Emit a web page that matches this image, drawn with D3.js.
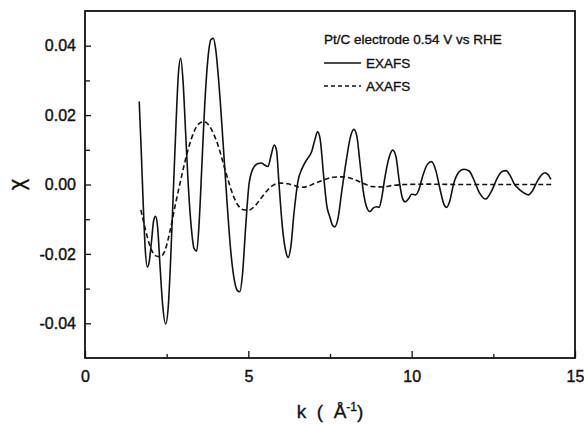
<!DOCTYPE html>
<html>
<head>
<meta charset="utf-8">
<script src="https://cdn.jsdelivr.net/npm/d3@7"></script>
<style>
  body { margin: 0; background: #fff; }
  svg { font-family: "Liberation Sans", Arial, sans-serif; }
  .tick text { font-size: 16px; fill: #111; stroke: #111; stroke-width: 0.4px; }
  .tick line { stroke: #111; stroke-width: 1.3; }
  .heavy { stroke: #111; stroke-width: 0.35px; }
</style>
</head>
<body>
<div id="chart"></div>
<script>
const svgWidth = 584;
const svgHeight = 424;

const margin = { top: 11, right: 9, bottom: 66, left: 85 };
const width = svgWidth - margin.left - margin.right;
const height = svgHeight - margin.top - margin.bottom;

// EXAFS chi(k)
const exafsK = [1.66, 1.72, 1.78, 1.84, 1.91, 1.97, 2.04, 2.10, 2.16, 2.22, 2.30, 2.38, 2.47, 2.55, 2.62, 2.70, 2.78, 2.86, 2.93, 3.00,
  3.08, 3.16, 3.25, 3.34, 3.42, 3.50, 3.58, 3.66, 3.76, 3.86, 3.93, 4.00, 4.10, 4.22, 4.34, 4.46, 4.58, 4.66, 4.74, 4.82,
  4.92, 5.02, 5.14, 5.28, 5.40, 5.50, 5.60, 5.70, 5.79, 5.86, 5.94, 6.04, 6.14, 6.22, 6.30, 6.40, 6.52, 6.64, 6.78, 6.94,
  7.04, 7.12, 7.20, 7.30, 7.40, 7.50, 7.58, 7.65, 7.74, 7.86, 8.00, 8.12, 8.23, 8.32, 8.42, 8.52, 8.62, 8.72, 8.82, 8.92,
  9.00, 9.08, 9.18, 9.30, 9.42, 9.52, 9.62, 9.72, 9.80, 9.90, 10.00, 10.12, 10.22, 10.34, 10.48, 10.61, 10.74, 10.86, 10.98, 11.07,
  11.16, 11.28, 11.44, 11.60, 11.76, 11.92, 12.08, 12.27, 12.44, 12.64, 12.78, 12.89, 13.02, 13.14, 13.26, 13.40, 13.57, 13.70, 13.86, 14.00,
  14.08, 14.18, 14.26];
const exafsChi = [0.0239, 0.010, -0.005, -0.018, -0.0238, -0.022, -0.016, -0.0105, -0.0092, -0.012, -0.024, -0.035, -0.0402, -0.035, -0.022, -0.003, 0.016, 0.032, 0.0364, 0.030,
  0.015, 0.000, -0.012, -0.0185, -0.0192, -0.010, 0.006, 0.022, 0.036, 0.0418, 0.0421, 0.039, 0.029, 0.013, -0.004, -0.019, -0.028, -0.0305, -0.0309, -0.026,
  -0.012, 0.000, 0.0045, 0.006, 0.0062, 0.0056, 0.0052, 0.0085, 0.0114, 0.010, 0.000, -0.012, -0.019, -0.021, -0.018, -0.008, 0.001, 0.0045, 0.007, 0.0095,
  0.013, 0.0152, 0.013, 0.003, -0.006, -0.0095, -0.0118, -0.0122, -0.010, -0.002, 0.007, 0.0135, 0.0159, 0.014, 0.006, -0.002, -0.0065, -0.0078, -0.0068, -0.0064,
  -0.0066, -0.004, 0.002, 0.0075, 0.0099, 0.008, 0.001, -0.004, -0.0050, -0.0042, -0.0028, -0.0030, -0.0015, 0.0025, 0.0058, 0.0066, 0.004, -0.001, -0.0055, -0.0066,
  -0.005, 0.000, 0.0035, 0.0044, 0.0039, 0.001, -0.0025, -0.0042, -0.002, 0.0022, 0.0038, 0.0040, 0.0025, 0.0002, -0.0011, -0.0022, -0.0030, -0.0018, 0.0012, 0.003,
  0.0034, 0.0028, 0.0015];

// AXAFS chi(k)
const axafsK = [1.71, 1.85, 2.0, 2.15, 2.3, 2.45, 2.6, 2.75, 2.9, 3.05, 3.2, 3.35, 3.5, 3.65, 3.8, 3.95, 4.1, 4.25, 4.4, 4.55,
  4.7, 4.85, 5.0, 5.2, 5.4, 5.6, 5.8, 6.0, 6.2, 6.4, 6.6, 6.8, 7.0, 7.3, 7.6, 7.9, 8.2, 8.5, 8.8, 9.1,
  9.4, 9.8, 10.5, 11.5, 12.5, 13.5, 14.3];
const axafsChi = [-0.0073, -0.013, -0.018, -0.0205, -0.0208, -0.019, -0.0135, -0.0065, 0.000, 0.0062, 0.0115, 0.0155, 0.0176, 0.0181, 0.017, 0.0143, 0.0105, 0.0055, 0.0007, -0.0035,
  -0.0062, -0.0073, -0.0074, -0.0062, -0.0038, -0.0015, 0.000, 0.0004, 0.0002, -0.0003, -0.0008, -0.0006, 0.0002, 0.0013, 0.0021, 0.0022, 0.0016, 0.0004, -0.0006, -0.0007,
  -0.0003, 0.000, 0.0001, 0.000, 0.000, 0.000, 0.000];

const xMajor = [0, 5, 10, 15];
const xMinor = [2.5, 7.5, 12.5];
const yMajor = [-0.04, -0.02, 0.00, 0.02, 0.04];
const yMinor = [-0.03, -0.01, 0.01, 0.03];

const legendTitle = "Pt/C electrode 0.54 V vs RHE";
const seriesNames = ["EXAFS", "AXAFS"];

const svg = d3.select("#chart")
  .append("svg")
  .attr("width", svgWidth)
  .attr("height", svgHeight);

const chartGroup = svg.append("g")
  .attr("transform", `translate(${margin.left}, ${margin.top})`);

const xLinearScale = d3.scaleLinear().domain([0, 15]).range([0, width]);
const yLinearScale = d3.scaleLinear().domain([-0.05, 0.05]).range([height, 0]);

// axes, ticks pointing inward
const bottomAxis = d3.axisBottom(xLinearScale).tickValues(xMajor).tickSize(-7).tickPadding(13).tickFormat(d3.format("d"));
const bottomMinor = d3.axisBottom(xLinearScale).tickValues(xMinor).tickSize(-4).tickFormat("");
const leftAxis = d3.axisLeft(yLinearScale).tickValues(yMajor).tickSize(-6).tickPadding(9).tickFormat(d => d.toFixed(2));
const leftMinor = d3.axisLeft(yLinearScale).tickValues(yMinor).tickSize(-5).tickFormat("");

chartGroup.append("g").attr("transform", `translate(0, ${height})`).call(bottomAxis);
chartGroup.append("g").attr("transform", `translate(0, ${height})`).call(bottomMinor);
chartGroup.append("g").call(leftAxis);
chartGroup.append("g").call(leftMinor);
chartGroup.selectAll(".domain").remove();

// frame
chartGroup.append("rect")
  .attr("width", width)
  .attr("height", height)
  .attr("fill", "none")
  .attr("stroke", "#111")
  .attr("stroke-width", 1.8);

const line = d3.line()
  .x(d => xLinearScale(d[0]))
  .y(d => yLinearScale(d[1]))
  .curve(d3.curveMonotoneX);

chartGroup.append("path")
  .datum(d3.zip(exafsK, exafsChi))
  .attr("d", line)
  .attr("fill", "none")
  .attr("stroke", "#111")
  .attr("stroke-width", 1.6);

chartGroup.append("path")
  .datum(d3.zip(axafsK, axafsChi))
  .attr("d", line)
  .attr("fill", "none")
  .attr("stroke", "#111")
  .attr("stroke-width", 1.6)
  .attr("stroke-dasharray", "5,3");

// legend
const legend = svg.append("g").attr("transform", "translate(324, 0)");
legend.append("text").attr("class", "heavy").attr("x", 0).attr("y", 44).attr("font-size", 13.5).attr("fill", "#111").text(legendTitle);
seriesNames.forEach((name, i) => {
  const ly = 63 + i * 23;
  legend.append("line")
    .attr("x1", 0).attr("x2", 37).attr("y1", ly).attr("y2", ly)
    .attr("stroke", "#111").attr("stroke-width", 1.3)
    .attr("stroke-dasharray", i === 1 ? "4,3" : null);
  legend.append("text").attr("class", "heavy").attr("x", 42).attr("y", ly + 5).attr("font-size", 13.5).attr("fill", "#111").text(name);
});

// axis titles
svg.append("text")
  .attr("class", "heavy")
  .attr("transform", `translate(24, ${margin.top + height / 2}) rotate(-90)`)
  .attr("text-anchor", "middle")
  .attr("font-size", 22)
  .attr("fill", "#111")
  .text("χ");

const xTitle = svg.append("text")
  .attr("class", "heavy")
  .attr("x", 330)
  .attr("y", 418)
  .attr("text-anchor", "middle")
  .attr("font-size", 19)
  .attr("fill", "#111");
xTitle.append("tspan").text("k\u00a0\u00a0(\u00a0\u00a0Å");
xTitle.append("tspan").attr("dy", -7).attr("font-size", 12).text("-1");
xTitle.append("tspan").attr("dy", 7).text(")");
</script>
</body>
</html>
